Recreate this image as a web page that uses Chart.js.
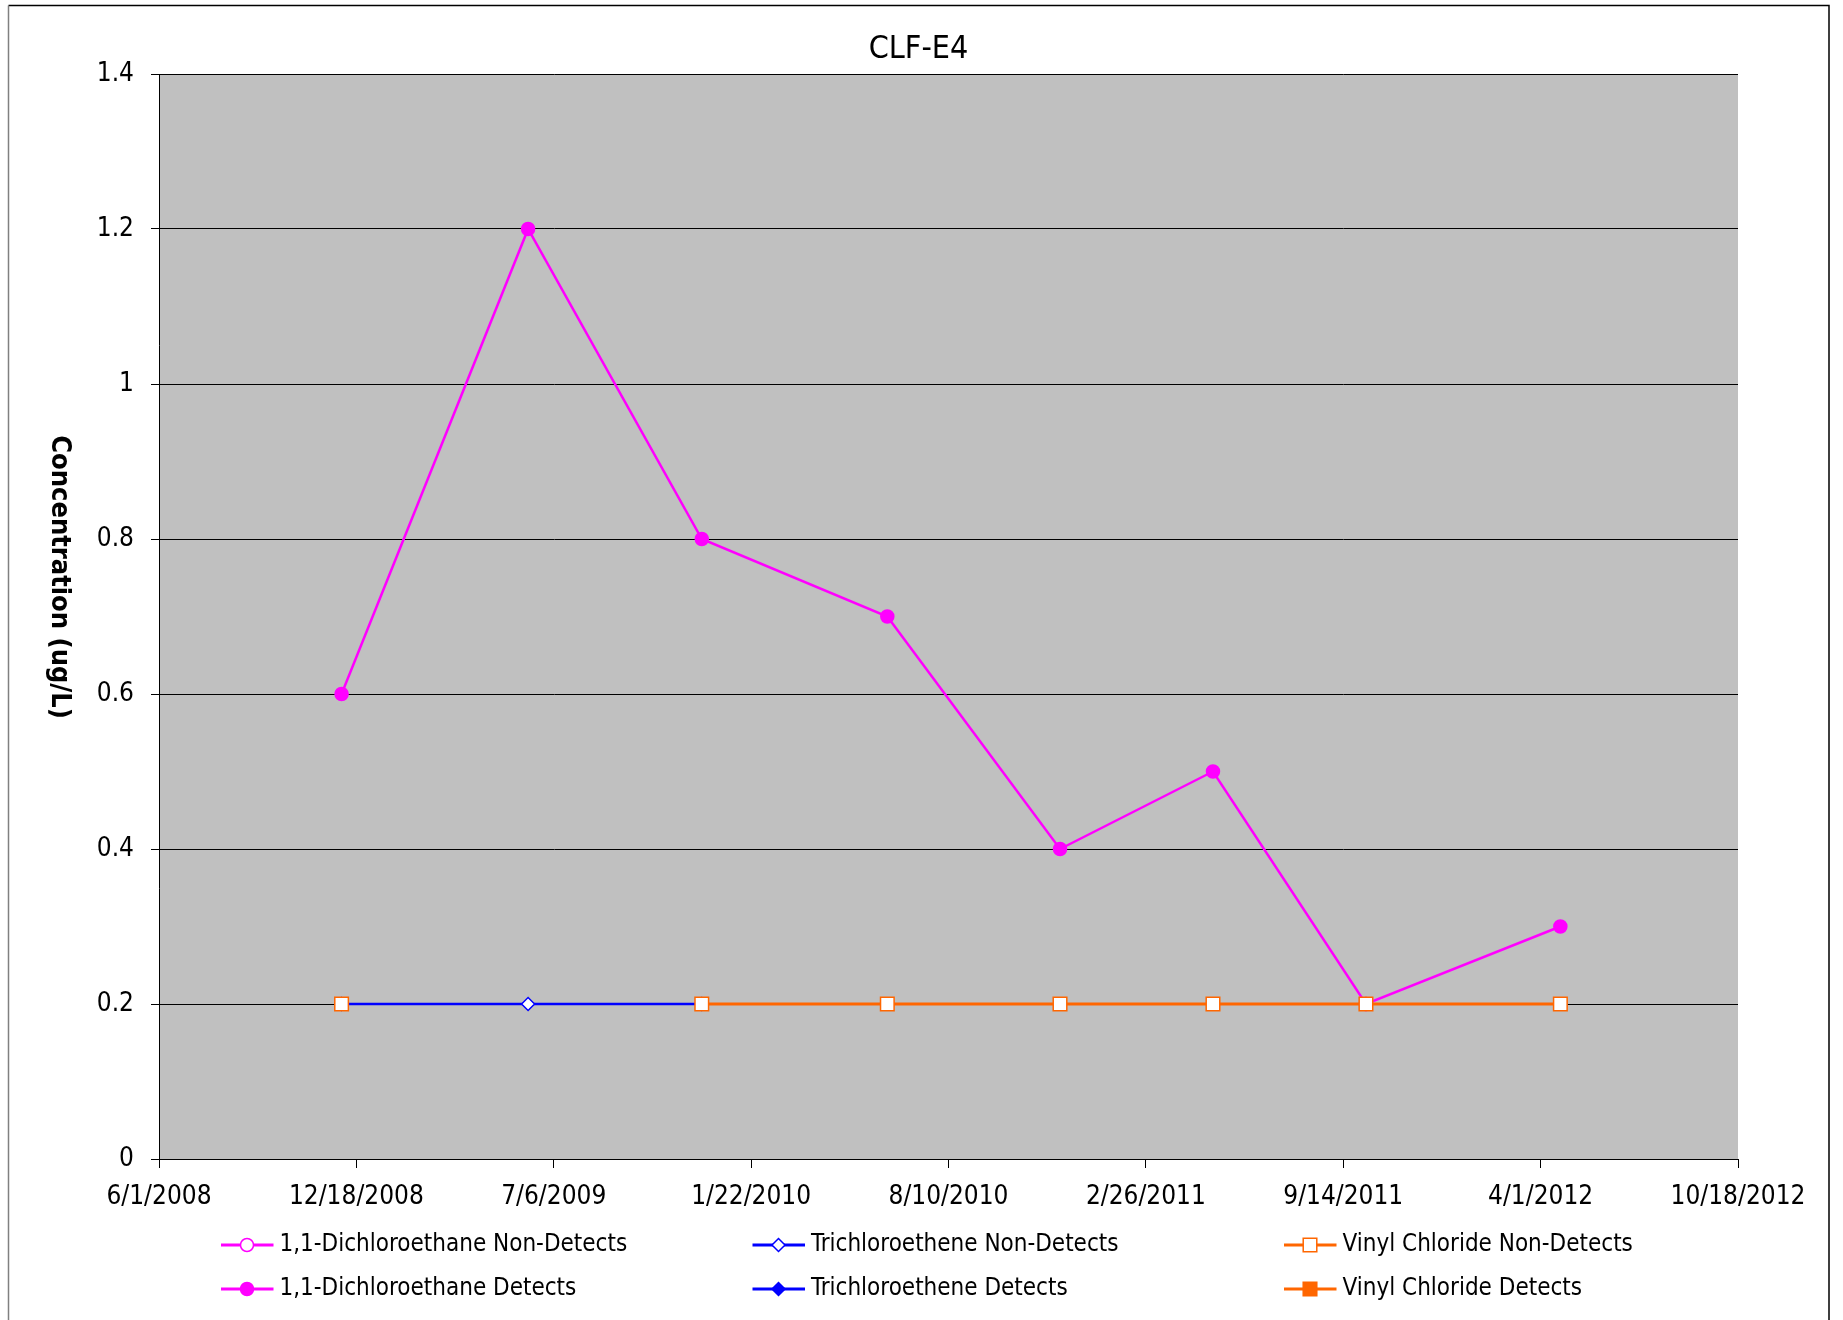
<!DOCTYPE html>
<html>
<head>
<meta charset="utf-8">
<title>CLF-E4</title>
<script src="https://cdn.jsdelivr.net/npm/chart.js@4.4.1/dist/chart.umd.min.js"></script>
<style>
  html, body { margin: 0; padding: 0; background: #fff; }
  #wrap { width: 1843px; height: 1320px; }
</style>
</head>
<body>
<div id="wrap"><canvas id="chart" width="1843" height="1320"></canvas></div>
<script>
// sample dates (M/D/YYYY)
const sampleDates = ["12/3/2008", "6/10/2009", "12/3/2009", "6/9/2010", "12/1/2010", "5/5/2011", "10/7/2011", "4/21/2012"];

// concentrations, ug/L (null = not plotted)
const dcaNonDetects = [null, null, null, null, null, null, 0.2, null];
const tceNonDetects = [0.2, 0.2, 0.2, null, null, null, null, null];
const vcNonDetects = [0.2, null, 0.2, 0.2, 0.2, 0.2, 0.2, 0.2];
const dcaDetects = [0.6, 1.2, 0.8, 0.7, 0.4, 0.5, 0.2, 0.3];
const tceDetects = [];
const vcDetects = [];

const axisStart = "6/1/2008";
const axisEnd = "10/18/2012";
const axisStepDays = 200;
const yTicks = { min: 0, max: 1.4, step: 0.2 };

const FONT = "'DejaVu Sans Condensed', 'DejaVu Sans', sans-serif";
const DAY = 86400000;

function toMs(s) {
  const [m, d, y] = s.split("/").map(Number);
  return Date.UTC(y, m - 1, d);
}

function fmtDate(v) {
  const dt = new Date(v);
  return `${dt.getUTCMonth() + 1}/${dt.getUTCDate()}/${dt.getUTCFullYear()}`;
}

function points(values) {
  return values.map((v, i) => ({ x: toMs(sampleDates[i]), y: v }));
}

const MAGENTA = "#ff00ff";
const BLUE = "#0000ff";
const ORANGE = "#ff6600";

function series(label, values, color, style, radius, filled, lineWidth, order) {
  return {
    label,
    data: points(values),
    showLine: true,
    borderColor: color,
    backgroundColor: color,
    borderWidth: lineWidth,
    pointStyle: style,
    pointRadius: radius,
    pointBackgroundColor: filled ? color : "#ffffff",
    pointBorderColor: color,
    pointBorderWidth: 1.5,
    order
  };
}

const datasets = [
  series("1,1-Dichloroethane Non-Detects", dcaNonDetects, MAGENTA, "circle", 6.5, false, 2.5, 2),
  series("Trichloroethene Non-Detects", tceNonDetects, BLUE, "rectRot", 6.5, false, 2.5, 3),
  series("Vinyl Chloride Non-Detects", vcNonDetects, ORANGE, "rect", 9.6, false, 3, 0),
  series("1,1-Dichloroethane Detects", dcaDetects, MAGENTA, "circle", 6.5, true, 2.5, 1),
  series("Trichloroethene Detects", tceDetects, BLUE, "rectRot", 6.5, true, 2.5, 3),
  series("Vinyl Chloride Detects", vcDetects, ORANGE, "rect", 9.6, true, 3, 0)
];

// gray plot area, outer frame, title, rotated y title and the 3-column legend
const decor = {
  id: "decor",
  beforeDraw(chart) {
    const { ctx, chartArea: a } = chart;
    ctx.save();
    ctx.fillStyle = "#c0c0c0";
    ctx.fillRect(a.left, a.top, a.right - a.left, a.bottom - a.top);
    ctx.restore();
  },
  afterDraw(chart) {
    const ctx = chart.ctx;
    ctx.save();
    ctx.lineWidth = 1.5;
    ctx.strokeStyle = "#000";
    ctx.beginPath();
    ctx.moveTo(8.5, 5.5);
    ctx.lineTo(1829, 5.5);
    ctx.lineTo(1829, 1320);
    ctx.stroke();
    ctx.strokeStyle = "#808080";
    ctx.beginPath();
    ctx.moveTo(8.5, 5.5);
    ctx.lineTo(8.5, 1320);
    ctx.stroke();

    ctx.fillStyle = "#000";
    ctx.textAlign = "center";
    ctx.textBaseline = "middle";
    ctx.font = `32px ${FONT}`;
    ctx.fillText("CLF-E4", 918.5, 50);

    ctx.translate(59, 577);
    ctx.rotate(Math.PI / 2);
    ctx.font = `bold 27px ${FONT}`;
    ctx.fillText("Concentration (ug/L)", 0, 0);
    ctx.restore();

    const colX = [221, 752.5, 1284];
    const rowY = [1245, 1289];
    ctx.save();
    ctx.font = `24px ${FONT}`;
    ctx.textBaseline = "middle";
    chart.data.datasets.forEach((ds, i) => {
      const x = colX[i % 3];
      const y = rowY[Math.floor(i / 3)];
      ctx.strokeStyle = ds.borderColor;
      ctx.lineWidth = 3;
      ctx.beginPath();
      ctx.moveTo(x, y);
      ctx.lineTo(x + 52.5, y);
      ctx.stroke();
      ctx.fillStyle = ds.pointBackgroundColor;
      ctx.strokeStyle = ds.pointBorderColor;
      ctx.lineWidth = ds.pointBorderWidth;
      Chart.helpers.drawPoint(ctx, {
        pointStyle: ds.pointStyle,
        radius: ds.pointStyle === "rect" ? 9.6 : 6.5,
        rotation: 0,
        borderWidth: ds.pointBorderWidth
      }, x + 26, y);
      ctx.fillStyle = "#000";
      ctx.fillText(ds.label, x + 58.5, y);
    });
    ctx.restore();
  }
};

new Chart(document.getElementById("chart"), {
  type: "scatter",
  data: { datasets },
  plugins: [decor],
  options: {
    responsive: false,
    animation: false,
    events: [],
    layout: { padding: { top: 74, left: 0, right: 105, bottom: 101 } },
    font: { family: FONT },
    plugins: {
      legend: { display: false },
      tooltip: { enabled: false },
      title: { display: false }
    },
    scales: {
      x: {
        type: "linear",
        min: toMs(axisStart),
        max: toMs(axisEnd),
        afterFit(scale) { scale.height = 60; },
        ticks: {
          stepSize: axisStepDays * DAY,
          autoSkip: false,
          maxRotation: 0,
          padding: 14,
          color: "#000",
          font: { family: FONT, size: 26 },
          callback: (v) => fmtDate(v)
        },
        grid: { drawOnChartArea: false, drawTicks: true, tickLength: 9, color: "#000", lineWidth: 1 },
        border: { display: true, color: "#000", width: 1 }
      },
      y: {
        min: yTicks.min,
        max: yTicks.max,
        afterFit(scale) { scale.width = 159; },
        ticks: {
          stepSize: yTicks.step,
          padding: 17,
          color: "#000",
          font: { family: FONT, size: 26 },
          callback: (v) => String(+v.toFixed(1))
        },
        grid: { color: "#000", lineWidth: 1, tickLength: 8 },
        border: { display: true, color: "#000", width: 1 }
      }
    }
  }
});
</script>
</body>
</html>
